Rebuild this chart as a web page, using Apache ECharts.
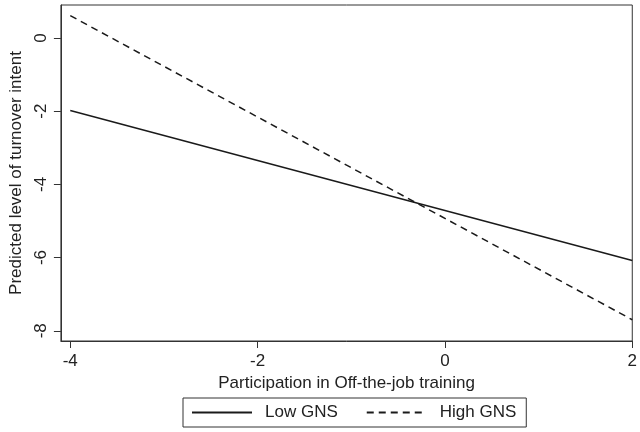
<!DOCTYPE html>
<html>
<head>
<meta charset="utf-8">
<script src="https://cdn.jsdelivr.net/npm/echarts@6/dist/echarts.min.js"></script>
<style>
  html, body { margin: 0; padding: 0; background: #fff; }
  #chart { width: 640px; height: 432px; }
</style>
</head>
<body>
<div id="chart"></div>
<script>
// values
var xValues = [-4, 2];
var lowGNS = [-1.98, -6.08];
var highGNS = [0.61, -7.7];
var xTicks = [-4, -2, 0, 2];
var yTicks = [0, -2, -4, -6, -8];

var FONT = '"Liberation Sans", Arial, sans-serif';
var INK = '#222';

function pairs(xs, ys) {
    return xs.map(function (x, i) { return [x, ys[i]]; });
}

var chart = echarts.init(document.querySelector('#chart'));
var option = {
    backgroundColor: '#fff',
    animation: false,
    textStyle: { fontFamily: FONT, color: INK },
    grid: {
        left: 58, right: 1, top: 5, bottom: 91,
        show: true, borderColor: '#333', borderWidth: 1
    },
    xAxis: {
        type: 'value',
        min: -4.1, max: 2,
        name: 'Participation in Off-the-job training',
        nameLocation: 'middle',
        nameGap: 30,
        nameTextStyle: { fontSize: 17, color: INK, fontFamily: FONT },
        axisLine: { show: true, onZero: false, lineStyle: { color: '#333', width: 1 } },
        axisTick: { show: true, length: 7, customValues: xTicks, lineStyle: { color: '#333' } },
        axisLabel: { customValues: xTicks, fontSize: 17, color: INK, margin: 12, fontFamily: FONT },
        splitLine: { show: false }
    },
    yAxis: {
        type: 'value',
        min: -8.28, max: 0.9,
        name: 'Predicted level of turnover intent',
        nameLocation: 'middle',
        nameGap: 32,
        nameTextStyle: { fontSize: 17, color: INK, fontFamily: FONT },
        axisLine: { show: true, onZero: false, lineStyle: { color: '#333', width: 1 } },
        axisTick: { show: true, length: 7, customValues: yTicks, lineStyle: { color: '#333' } },
        axisLabel: { customValues: yTicks, rotate: 90, fontSize: 17, color: INK, margin: 11, fontFamily: FONT },
        splitLine: { show: false }
    },
    legend: {
        left: 183, top: 398,
        itemWidth: 60, itemHeight: 14, itemGap: 28,
        padding: [6, 10, 6, 8],
        borderColor: '#333', borderWidth: 1,
        itemStyle: { opacity: 0 },
        textStyle: { fontSize: 17, color: INK, fontFamily: FONT, padding: [0, 0, 0, 8] },
        data: ['Low GNS', 'High GNS']
    },
    series: [
        {
            name: 'Low GNS',
            type: 'line',
            symbol: 'none',
            data: pairs(xValues, lowGNS),
            lineStyle: { color: '#1a1a1a', width: 1.5, type: 'solid' },
            itemStyle: { color: '#1a1a1a' }
        },
        {
            name: 'High GNS',
            type: 'line',
            symbol: 'none',
            data: pairs(xValues, highGNS),
            lineStyle: { color: '#1a1a1a', width: 1.5, type: [7, 5] },
            itemStyle: { color: '#1a1a1a' }
        }
    ]
};
chart.setOption(option);
</script>
</body>
</html>
